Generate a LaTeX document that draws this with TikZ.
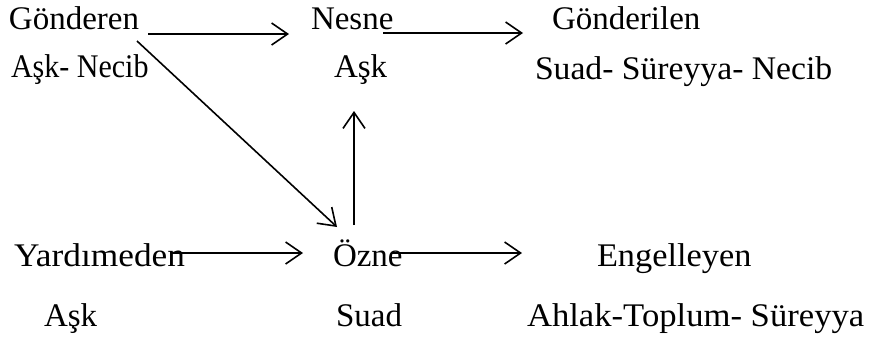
\documentclass[tikz,border=0pt]{standalone}
\usepackage{fontspec}
\usepackage{graphicx}
\setmainfont{Liberation Serif}
\usetikzlibrary{arrows.meta}
\begin{document}
\begin{tikzpicture}[x=1pt,y=-1pt,
  lbl/.style={anchor=base west,inner sep=0pt,outer sep=0pt,font=\fontsize{33}{38}\selectfont},
  arr/.style={line width=1.6pt,-{Straight Barb[length=16pt,width=22pt,line width=1.6pt]}}]
\useasboundingbox (0,0) rectangle (870,341);
% row 1
\node[lbl] (gonderen) at (9,29.5) {Gönderen};
\node[lbl] (nesne) at (311,29.5) {Nesne};
\node[lbl] (gonderilen) at (552,29.5) {Gönderilen};
% row 2
\node[lbl] (asknecib) at (11,77) {\scalebox{0.91}[1]{Aşk- Necib}};
\node[lbl] (ask1) at (334,77) {Aşk};
\node[lbl] (suadsn) at (535,79) {\scalebox{1.02}[1]{Suad- Süreyya- Necib}};
% row 3
\node[lbl] (yardimeden) at (14,266) {\scalebox{1.07}[1]{Yardımeden}};
\node[lbl] (ozne) at (333,266) {Özne};
\node[lbl] (engelleyen) at (597,266) {\scalebox{1.04}[1]{Engelleyen}};
% row 4
\node[lbl] (ask2) at (44,326) {Aşk};
\node[lbl] (suad) at (336,326) {Suad};
\node[lbl] (ahlak) at (527,326) {\scalebox{1.05}[1]{Ahlak-Toplum- Süreyya}};
% connector ends
\coordinate (g1) at (148,34);
\coordinate (n1) at (289,34);
\coordinate (n2) at (383,33);
\coordinate (gl) at (523,33);
\coordinate (gd) at (137,41);
\coordinate (od) at (337,227);
\coordinate (ob) at (354,225);
\coordinate (at) at (354,111);
\coordinate (y1) at (170,253);
\coordinate (o1) at (303,253);
\coordinate (o2) at (392,253);
\coordinate (e1) at (522,253);
\draw[arr] (g1) -- (n1);
\draw[arr] (n2) -- (gl);
\draw[arr] (gd) -- (od);
\draw[arr] (ob) -- (at);
\draw[arr] (y1) -- (o1);
\draw[arr] (o2) -- (e1);
\end{tikzpicture}
\end{document}
